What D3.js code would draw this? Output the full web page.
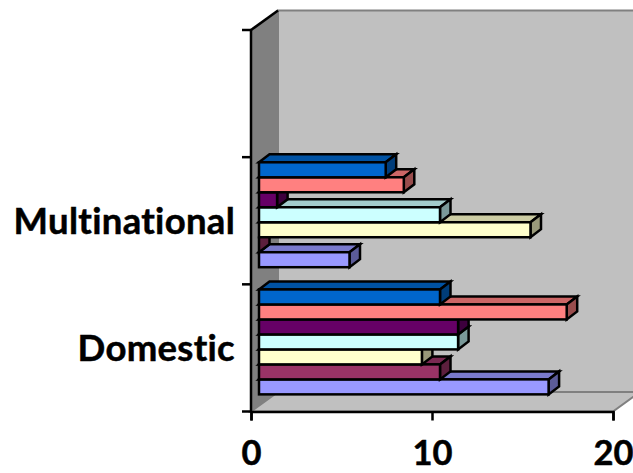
<!DOCTYPE html>
<html>
<head>
<meta charset="utf-8">
<script src="https://cdn.jsdelivr.net/npm/d3@7"></script>
<style>
html,body{margin:0;padding:0;background:#fff;overflow:hidden}
svg{display:block}
text{font-family:Lato,"Open Sans",sans-serif;font-weight:700;fill:#000;stroke:#000;stroke-width:0.5;font-variant-ligatures:none}
</style>
</head>
<body>
<svg id="chart" width="633" height="473"></svg>
<script>
// Chart data
const categories = ["Domestic", "Multinational", ""];
const seriesNames = ["S1", "S2", "S3", "S4", "S5", "S6", "S7"];
const seriesColors = ["#9999FF", "#993366", "#FFFFCC", "#CCFFFF", "#660066", "#FF8080", "#0066CC"];
const domesticValues = [16, 10, 9, 11, 11, 17, 10];
const multinationalValues = [5, 0, 15, 10, 1, 8, 7];
const emptyValues = [];
const valueTicks = [0, 10, 20];
const valuesByCategory = [domesticValues, multinationalValues, emptyValues];

// Plot box and 3D projection
const plot = {left: 251, right: 613, top: 30, bottom: 411.5};
const wallDepth = {dx: 27, dy: -19.5};
const barDepth = {dx: 10.5, dy: -8};
const barOffset = {dx: 8, dy: -6};

const svg = d3.select("#chart");
const x = d3.scaleLinear().domain([0, 20]).range([plot.left, plot.right]);
const y = d3.scaleBand().domain(categories).range([plot.bottom, plot.top])
  .paddingInner(0.175).paddingOuter(0.0875);
const yInner = d3.scaleBand().domain(seriesNames).range([y.bandwidth(), 0]);

const poly = pts => pts.map(p => p.join(",")).join(" ");
const line = (g, x1, y1, x2, y2, stroke, w) => g.append("line")
  .attr("x1", x1).attr("y1", y1).attr("x2", x2).attr("y2", y2)
  .attr("stroke", stroke).attr("stroke-width", w);

// Walls and floor
const walls = svg.append("g");
const {left: L, right: R, top: T, bottom: B} = plot;
const {dx: wx, dy: wy} = wallDepth;
walls.append("polygon").attr("fill", "#C0C0C0").attr("stroke", "#808080").attr("stroke-width", 2)
  .attr("points", poly([[L + wx, T + wy], [R + wx, T + wy], [R + wx, B + wy], [L + wx, B + wy]]));
walls.append("polygon").attr("fill", "#808080").attr("stroke", "#808080").attr("stroke-width", 1)
  .attr("points", poly([[L, T], [L + wx, T + wy], [L + wx, B + wy], [L, B]]));
walls.append("polygon").attr("fill", "#C0C0C0").attr("stroke", "#808080").attr("stroke-width", 2)
  .attr("points", poly([[L, B], [R, B], [R + wx, B + wy], [L + wx, B + wy]]));

// Bars, lowest first so each upper bar overlaps the top face of the one below
const shade = (c, k) => {
  const r = d3.rgb(c);
  return d3.rgb(r.r * k, r.g * k, r.b * k).formatHex();
};
const barsLayer = svg.append("g")
  .attr("stroke", "#000").attr("stroke-width", 2.5).attr("stroke-linejoin", "miter");
categories.forEach((cat, ci) => {
  valuesByCategory[ci].forEach((v, si) => {
    const name = seriesNames[si];
    const col = seriesColors[si];
    const x0 = x(0) + barOffset.dx;
    const x1 = x(v) + barOffset.dx;
    const y0 = y(cat) + yInner(name) + barOffset.dy;
    const y1 = y0 + yInner.bandwidth();
    const dx = barDepth.dx, dy = barDepth.dy;
    const g = barsLayer.append("g");
    g.append("polygon").attr("fill", shade(col, 0.8))
      .attr("points", poly([[x0, y0], [x0 + dx, y0 + dy], [x1 + dx, y0 + dy], [x1, y0]]));
    g.append("polygon").attr("fill", shade(col, 0.6))
      .attr("points", poly([[x1, y0], [x1 + dx, y0 + dy], [x1 + dx, y1 + dy], [x1, y1]]));
    g.append("rect").attr("x", x0).attr("y", y0)
      .attr("width", x1 - x0).attr("height", y1 - y0).attr("fill", col);
  });
});

// Axes
const axisColor = "#000";
const xAxis = svg.append("g").attr("transform", `translate(0,${B})`)
  .call(d3.axisBottom(x).tickValues(valueTicks).tickSize(9).tickPadding(20.5).tickFormat(d3.format("d")));
xAxis.selectAll("path,line").attr("stroke", axisColor).attr("stroke-width", 2.5);
xAxis.selectAll("text").attr("font-size", 34.5).attr("font-family", null);

const yBoundaries = d3.range(categories.length + 1).map(i => B + (T - B) * i / categories.length);
const yAxis = svg.append("g");
line(yAxis, L, T, L, B + 1, axisColor, 2.5);
yBoundaries.forEach(b => line(yAxis, L - 9, b, L, b, axisColor, 2.5));
line(yAxis, L, T, L + wx, T + wy, axisColor, 2.5);

// Category labels
svg.append("g").selectAll("text").data(categories).join("text")
  .attr("x", 235).attr("text-anchor", "end").attr("font-size", 36.5)
  .attr("letter-spacing", 0.3)
  .attr("y", d => y(d) + y.bandwidth() / 2 + 13.5)
  .text(d => d);
</script>
</body>
</html>
